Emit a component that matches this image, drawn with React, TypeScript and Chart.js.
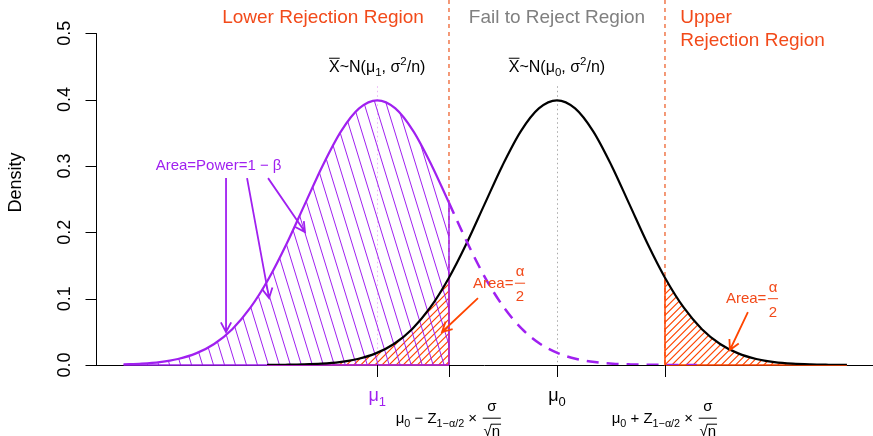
import React, { useEffect, useRef } from 'react';
import { Chart, registerables } from 'chart.js';

Chart.register(...registerables);

// ---- axis ranges / key positions (data units, sigma = 1) ----
const MU0 = 0;
const MU1 = -2.48;
const CRIT_LO = -1.49;
const CRIT_HI = 1.49;
const X_MIN = -6.36;
const X_MAX = 4.36;
const Y_MAX = 0.55;

const yTicks = [0, 0.1, 0.2, 0.3, 0.4, 0.5];
const yTickLabels = ['0.0', '0.1', '0.2', '0.3', '0.4', '0.5'];
const xTicks = [MU1, CRIT_LO, MU0, CRIT_HI];

// ---- null distribution  X̄ ~ N(mu0, sigma^2/n) ----
const nullX = [-4, -3.75, -3.5, -3.25, -3, -2.75, -2.5, -2.25, -2, -1.75, -1.49, -1.25, -1, -0.75, -0.5, -0.25, 0,
  0.25, 0.5, 0.75, 1, 1.25, 1.49, 1.75, 2, 2.25, 2.5, 2.75, 3, 3.25, 3.5, 3.75, 4];
const nullY = [0.0001, 0.0004, 0.0009, 0.0020, 0.0044, 0.0091, 0.0175, 0.0317, 0.0540, 0.0863, 0.1315, 0.1826, 0.2420,
  0.3011, 0.3521, 0.3867, 0.3989, 0.3867, 0.3521, 0.3011, 0.2420, 0.1826, 0.1315, 0.0863, 0.0540, 0.0317, 0.0175,
  0.0091, 0.0044, 0.0020, 0.0009, 0.0004, 0.0001];

// ---- alternative distribution X̄ ~ N(mu1, sigma^2/n): solid (power) part ----
const altX = [-5.98, -5.73, -5.48, -5.23, -4.98, -4.73, -4.48, -4.23, -3.98, -3.73, -3.48, -3.23, -2.98, -2.73, -2.48,
  -2.23, -1.98, -1.73, -1.49];
const altY = [0.0009, 0.0020, 0.0044, 0.0091, 0.0175, 0.0317, 0.0540, 0.0863, 0.1295, 0.1826, 0.2420, 0.3011, 0.3521,
  0.3867, 0.3989, 0.3867, 0.3521, 0.3011, 0.2444];

// ---- alternative distribution: dashed tail ----
const altTailX = [-1.49, -1.23, -0.98, -0.73, -0.48, -0.23, 0.02, 0.27, 0.52, 0.77, 1.02, 1.27, 1.52, 1.93];
const altTailY = [0.2444, 0.1826, 0.1295, 0.0863, 0.0540, 0.0317, 0.0175, 0.0091, 0.0044, 0.0020, 0.0009, 0.0004,
  0.0001, 0.0000];

// ---- annotation anchors (data units) ----
const powerArrows = [
  [-4.566, 0.2816, -4.566, 0.0497],
  [-4.276, 0.2816, -3.972, 0.1009],
  [-3.986, 0.2816, -3.476, 0.2003],
];
const alphaArrowLo = [-1.090, 0.1009, -1.586, 0.0497];
const alphaArrowHi = [2.634, 0.0798, 2.386, 0.0226];

const FONT = '"Liberation Sans", Arial, Helvetica, sans-serif';
const PURPLE = '#A020F0';
const ORANGE = '#FF4500';
const ORANGE_TEXT = '#F24A1A';
const GRAY = '#808080';

type Seg = { t?: string; sub?: boolean; sup?: boolean; over?: boolean; num?: string; den?: string; rad?: boolean };

const f = (size: number) => `${size}px ${FONT}`;

function segW(ctx: CanvasRenderingContext2D, s: Seg, size: number) {
  if (s.num !== undefined) {
    ctx.font = f(size);
    const w = Math.max(ctx.measureText(s.num).width, ctx.measureText(s.den || '').width);
    return w + size * 0.3;
  }
  ctx.font = f(s.sub || s.sup ? size * 0.72 : size);
  return ctx.measureText(s.t || '').width;
}

function drawRich(ctx: CanvasRenderingContext2D, segs: Seg[], x: number, y: number, size: number, color: string,
  align: 'center' | 'left') {
  const ws = segs.map((s) => segW(ctx, s, size));
  const total = ws.reduce((a, b) => a + b, 0);
  let cx = align === 'center' ? x - total / 2 : x;
  ctx.save();
  ctx.fillStyle = color;
  ctx.strokeStyle = color;
  ctx.textBaseline = 'alphabetic';
  segs.forEach((s, i) => {
    const w = ws[i];
    if (s.num !== undefined) {
      const bar = y - size * 0.32;
      ctx.lineWidth = 1;
      ctx.beginPath();
      ctx.moveTo(cx + size * 0.1, bar);
      ctx.lineTo(cx + w - size * 0.1, bar);
      ctx.stroke();
      ctx.font = f(size);
      ctx.textAlign = 'center';
      ctx.fillText(s.num, cx + w / 2, bar - size * 0.45);
      const denB = bar + size * 1.2;
      ctx.fillText(s.den || '', cx + w / 2, denB);
      if (s.rad) {
        ctx.textAlign = 'left';
        const dw = ctx.measureText(s.den || '').width;
        const rw = ctx.measureText('\u221A').width;
        const start = cx + w / 2 - dw / 2;
        ctx.beginPath();
        ctx.moveTo(start + rw * 0.9, denB - size * 0.8);
        ctx.lineTo(start + dw + 1, denB - size * 0.8);
        ctx.stroke();
      }
    } else {
      const sz = s.sub || s.sup ? size * 0.72 : size;
      const dy = s.sub ? size * 0.25 : s.sup ? -size * 0.42 : 0;
      ctx.font = f(sz);
      ctx.textAlign = 'left';
      ctx.fillText(s.t || '', cx, y + dy);
      if (s.over) {
        ctx.lineWidth = 1;
        ctx.beginPath();
        ctx.moveTo(cx, y - size * 0.86);
        ctx.lineTo(cx + w, y - size * 0.86);
        ctx.stroke();
      }
    }
    cx += w;
  });
  ctx.restore();
}

function areaPath(ctx: CanvasRenderingContext2D, chart: any, idx: number, y0: number) {
  const meta = chart.getDatasetMeta(idx);
  const line: any = meta.dataset;
  const pts: any[] = meta.data;
  ctx.beginPath();
  let done = false;
  if (line && typeof line.updateControlPoints === 'function' && typeof line.path === 'function') {
    try {
      line.updateControlPoints(chart.chartArea, 'x');
      line.path(ctx);
      done = true;
    } catch (e) {
      ctx.beginPath();
    }
  }
  if (!done) pts.forEach((p, i) => (i ? ctx.lineTo(p.x, p.y) : ctx.moveTo(p.x, p.y)));
  ctx.lineTo(pts[pts.length - 1].x, y0);
  ctx.lineTo(pts[0].x, y0);
  ctx.closePath();
}

function hatch(ctx: CanvasRenderingContext2D, area: any, angleDeg: number, step: number, color: string, lw: number) {
  const a = (angleDeg * Math.PI) / 180;
  const dx = Math.cos(a);
  const dy = -Math.sin(a);
  const nx = -dy;
  const ny = dx;
  const cx = (area.left + area.right) / 2;
  const cy = (area.top + area.bottom) / 2;
  const R = Math.hypot(area.right - area.left, area.bottom - area.top);
  ctx.strokeStyle = color;
  ctx.lineWidth = lw;
  ctx.setLineDash([]);
  ctx.beginPath();
  for (let o = -R; o <= R; o += step) {
    const px = cx + nx * o;
    const py = cy + ny * o;
    ctx.moveTo(px - dx * R, py - dy * R);
    ctx.lineTo(px + dx * R, py + dy * R);
  }
  ctx.stroke();
}

function arrow(ctx: CanvasRenderingContext2D, x0: number, y0: number, x1: number, y1: number, color: string) {
  const ang = Math.atan2(y1 - y0, x1 - x0);
  const h = 11;
  const spread = (28 * Math.PI) / 180;
  ctx.save();
  ctx.strokeStyle = color;
  ctx.lineWidth = 1.8;
  ctx.setLineDash([]);
  ctx.beginPath();
  ctx.moveTo(x0, y0);
  ctx.lineTo(x1, y1);
  ctx.moveTo(x1 - h * Math.cos(ang - spread), y1 - h * Math.sin(ang - spread));
  ctx.lineTo(x1, y1);
  ctx.lineTo(x1 - h * Math.cos(ang + spread), y1 - h * Math.sin(ang + spread));
  ctx.stroke();
  ctx.restore();
}

const decor = {
  id: 'decor',
  beforeDatasetsDraw(chart: any) {
    const ctx: CanvasRenderingContext2D = chart.ctx;
    const xs = chart.scales.x;
    const ys = chart.scales.y;
    const area = chart.chartArea;
    const X = (v: number) => xs.getPixelForValue(v);
    const Y = (v: number) => ys.getPixelForValue(v);
    const y0 = Y(0);
    ctx.save();
    // baseline
    ctx.strokeStyle = '#000';
    ctx.lineWidth = 1;
    ctx.beginPath();
    ctx.moveTo(area.left, y0 + 0.5);
    ctx.lineTo(area.right, y0 + 0.5);
    ctx.stroke();
    // dotted mean lines
    ctx.setLineDash([1.5, 3]);
    ctx.strokeStyle = '#A8A8A8';
    ctx.beginPath();
    ctx.moveTo(Math.round(X(MU0)) + 0.5, Y(0.42));
    ctx.lineTo(Math.round(X(MU0)) + 0.5, y0);
    ctx.stroke();
    ctx.strokeStyle = '#ECB4F6';
    ctx.beginPath();
    ctx.moveTo(Math.round(X(MU1)) + 0.5, Y(0.42));
    ctx.lineTo(Math.round(X(MU1)) + 0.5, y0);
    ctx.stroke();
    // dashed critical lines
    ctx.setLineDash([4, 4]);
    ctx.strokeStyle = '#F0784C';
    ctx.lineWidth = 1.5;
    [CRIT_LO, CRIT_HI].forEach((c) => {
      const xx = X(c);
      ctx.beginPath();
      ctx.moveTo(xx, area.top);
      ctx.lineTo(xx, y0);
      ctx.stroke();
    });
    ctx.setLineDash([]);

    // orange alpha/2 areas under null curve
    const nm = chart.getDatasetMeta(2);
    const np: any[] = nm.data;
    const iLo = nullX.indexOf(CRIT_LO);
    const iHi = nullX.indexOf(CRIT_HI);
    const xFirst = np[0].x;
    const xLast = np[np.length - 1].x;
    ctx.save();
    areaPath(ctx, chart, 2, y0);
    ctx.clip();
    ctx.beginPath();
    ctx.rect(xFirst, area.top, X(CRIT_LO) - xFirst, y0 - area.top);
    ctx.rect(X(CRIT_HI), area.top, xLast - X(CRIT_HI), y0 - area.top);
    ctx.clip();
    hatch(ctx, area, 45, 5, ORANGE, 1.15);
    ctx.restore();
    ctx.strokeStyle = ORANGE;
    ctx.lineWidth = 1.5;
    ctx.beginPath();
    ctx.moveTo(np[iLo].x, np[iLo].y);
    ctx.lineTo(np[iLo].x, y0);
    ctx.lineTo(xFirst, y0);
    ctx.moveTo(np[iHi].x, np[iHi].y);
    ctx.lineTo(np[iHi].x, y0);
    ctx.lineTo(xLast, y0);
    ctx.stroke();

    // purple power area
    const am = chart.getDatasetMeta(0);
    const ap: any[] = am.data;
    ctx.save();
    areaPath(ctx, chart, 0, y0);
    ctx.clip();
    hatch(ctx, area, 107, 10.5, PURPLE, 1);
    ctx.restore();
    ctx.strokeStyle = PURPLE;
    ctx.lineWidth = 1.5;
    ctx.beginPath();
    ctx.moveTo(ap[ap.length - 1].x, ap[ap.length - 1].y);
    ctx.lineTo(ap[ap.length - 1].x, y0);
    ctx.lineTo(ap[0].x, y0);
    ctx.stroke();
    ctx.restore();
  },
  afterDatasetsDraw(chart: any) {
    const ctx: CanvasRenderingContext2D = chart.ctx;
    const xs = chart.scales.x;
    const ys = chart.scales.y;
    const area = chart.chartArea;
    const X = (v: number) => xs.getPixelForValue(v);
    const Y = (v: number) => ys.getPixelForValue(v);
    const y0 = Y(0);
    ctx.save();
    ctx.setLineDash([]);
    // y axis
    ctx.strokeStyle = '#000';
    ctx.lineWidth = 1;
    const ax = area.left + 0.5;
    ctx.beginPath();
    ctx.moveTo(ax, Y(yTicks[yTicks.length - 1]));
    ctx.lineTo(ax, Y(yTicks[0]));
    yTicks.forEach((v) => {
      const yy = Math.round(Y(v)) + 0.5;
      ctx.moveTo(ax - 11, yy);
      ctx.lineTo(ax, yy);
    });
    ctx.stroke();
    ctx.fillStyle = '#000';
    ctx.font = f(18);
    ctx.textAlign = 'center';
    ctx.textBaseline = 'alphabetic';
    yTicks.forEach((v, i) => {
      ctx.save();
      ctx.translate(area.left - 26, Y(v));
      ctx.rotate(-Math.PI / 2);
      ctx.fillText(yTickLabels[i], 0, 0);
      ctx.restore();
    });
    ctx.save();
    ctx.translate(21, (area.top + area.bottom) / 2);
    ctx.rotate(-Math.PI / 2);
    ctx.fillText('Density', 0, 0);
    ctx.restore();

    // x ticks
    ctx.beginPath();
    xTicks.forEach((v) => {
      const xx = Math.round(X(v)) + 0.5;
      ctx.moveTo(xx, y0);
      ctx.lineTo(xx, y0 + 12);
    });
    ctx.stroke();
    drawRich(ctx, [{ t: '\u03BC' }, { t: '1', sub: true }], X(MU1), y0 + 36, 18, PURPLE, 'center');
    drawRich(ctx, [{ t: '\u03BC' }, { t: '0', sub: true }], X(MU0), y0 + 36, 18, '#000', 'center');
    const formula = (op: string): Seg[] => [
      { t: '\u03BC' }, { t: '0', sub: true }, { t: op }, { t: 'Z' }, { t: '1\u2212\u03B1/2', sub: true },
      { t: ' \u00D7 ' }, { num: '\u03C3', den: '\u221An', rad: true },
    ];
    drawRich(ctx, formula(' \u2212 '), X(CRIT_LO), y0 + 58, 15, '#000', 'center');
    drawRich(ctx, formula(' + '), X(CRIT_HI), y0 + 58, 15, '#000', 'center');

    // region titles
    ctx.font = f(19);
    ctx.textBaseline = 'alphabetic';
    ctx.fillStyle = ORANGE_TEXT;
    ctx.textAlign = 'center';
    ctx.fillText('Lower Rejection Region', X(-3.228), Y(0.5154));
    ctx.fillStyle = GRAY;
    ctx.fillText('Fail to Reject Region', X(MU0), Y(0.5154));
    ctx.fillStyle = ORANGE_TEXT;
    ctx.textAlign = 'left';
    ctx.fillText('Upper', X(1.70), Y(0.5154));
    ctx.fillText('Rejection Region', X(1.70), Y(0.4807));

    // distribution labels
    const distLabel = (m: string): Seg[] => [
      { t: 'X', over: true }, { t: '~N(' }, { t: '\u03BC' }, { t: m, sub: true }, { t: ', \u03C3' },
      { t: '2', sup: true }, { t: '/n)' },
    ];
    drawRich(ctx, distLabel('1'), X(MU1), Y(0.4415), 16, '#000', 'center');
    drawRich(ctx, distLabel('0'), X(MU0), Y(0.4415), 16, '#000', 'center');

    // power annotation
    ctx.font = f(15);
    ctx.fillStyle = PURPLE;
    ctx.textAlign = 'center';
    ctx.fillText('Area=Power=1 \u2212 \u03B2', X(-4.669), Y(0.294));
    powerArrows.forEach((a) => arrow(ctx, X(a[0]), Y(a[1]), X(a[2]), Y(a[3]), PURPLE));

    // alpha/2 annotations
    const areaAlpha: Seg[] = [{ t: 'Area=' }, { num: '\u03B1', den: '2' }];
    drawRich(ctx, areaAlpha, X(-1.159), Y(0.116), 15, ORANGE_TEXT, 'left');
    drawRich(ctx, areaAlpha, X(2.331), Y(0.0927), 15, ORANGE_TEXT, 'left');
    arrow(ctx, X(alphaArrowLo[0]), Y(alphaArrowLo[1]), X(alphaArrowLo[2]), Y(alphaArrowLo[3]), ORANGE);
    arrow(ctx, X(alphaArrowHi[0]), Y(alphaArrowHi[1]), X(alphaArrowHi[2]), Y(alphaArrowHi[3]), ORANGE);
    ctx.restore();
  },
};

export default function App() {
  const ref = useRef<HTMLCanvasElement>(null);
  useEffect(() => {
    document.body.style.margin = '0';
    const canvas = ref.current;
    if (!canvas) return;
    const chart = new Chart(canvas, {
      type: 'line',
      data: {
        datasets: [
          {
            data: altX.map((x, i) => ({ x, y: altY[i] })),
            borderColor: PURPLE,
            borderWidth: 2.2,
            pointRadius: 0,
            cubicInterpolationMode: 'monotone',
            fill: false,
          },
          {
            data: altTailX.map((x, i) => ({ x, y: altTailY[i] })),
            borderColor: PURPLE,
            borderWidth: 2.5,
            borderDash: [12, 8],
            pointRadius: 0,
            cubicInterpolationMode: 'monotone',
            fill: false,
          },
          {
            data: nullX.map((x, i) => ({ x, y: nullY[i] })),
            borderColor: '#000',
            borderWidth: 2.2,
            pointRadius: 0,
            cubicInterpolationMode: 'monotone',
            fill: false,
          },
        ],
      },
      options: {
        animation: false,
        responsive: false,
        events: [],
        layout: { padding: { left: 96, right: 0, top: 0, bottom: 71 } },
        plugins: { legend: { display: false }, tooltip: { enabled: false }, title: { display: false } },
        scales: {
          x: { type: 'linear', min: X_MIN, max: X_MAX, display: false },
          y: { type: 'linear', min: 0, max: Y_MAX, display: false },
        },
      },
      plugins: [decor as any],
    } as any);
    return () => chart.destroy();
  }, []);
  return (
    <div style={{ position: 'absolute', left: 0, top: 0, width: 873, height: 436 }}>
      <canvas ref={ref} width={873} height={436} style={{ width: 873, height: 436, display: 'block' }} />
    </div>
  );
}
